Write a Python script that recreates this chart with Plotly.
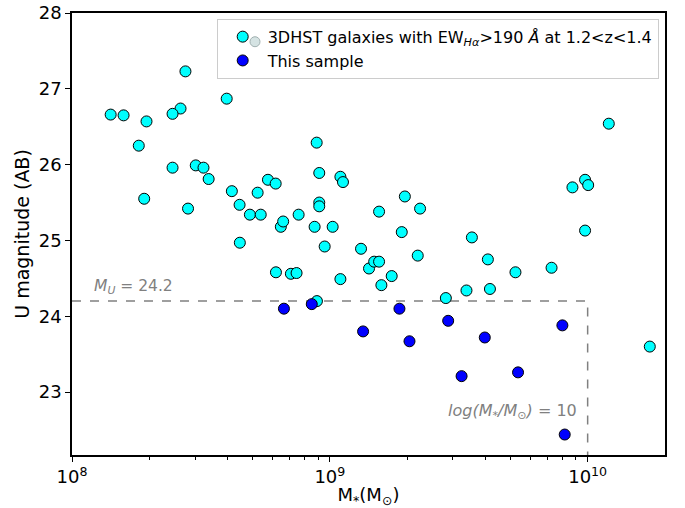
import plotly.graph_objects as go

# log10 stellar mass and U magnitude, 3DHST comparison galaxies
cyan_logm = [8.440, 8.600, 8.421, 8.390, 8.150, 8.200, 8.289, 8.259, 8.390, 8.480,
             8.510, 8.530, 8.280, 8.450, 8.620, 8.650, 8.760, 8.790, 8.720, 8.690,
             8.732, 8.810, 8.819, 8.651, 8.949, 8.959, 9.041, 9.051, 8.959, 8.959,
             9.291, 9.350, 9.191, 8.879, 8.941, 9.011, 9.279, 9.551, 8.980, 9.121,
             9.341, 10.082, 9.990, 10.002, 9.941, 9.990, 8.791, 8.849, 8.871, 9.041,
             9.152, 9.172, 9.191, 9.240, 9.200, 8.950, 9.450, 9.530, 9.613, 9.720,
             9.860, 9.621, 10.241]
cyan_u = [27.23, 26.87, 26.74, 26.67, 26.66, 26.65, 26.57, 26.25, 25.96, 25.99,
          25.96, 25.81, 25.55, 25.42, 25.65, 25.47, 25.80, 25.75, 25.63, 25.34,
          25.34, 25.18, 25.25, 24.97, 26.29, 25.89, 25.84, 25.77, 25.50, 25.45,
          25.58, 25.42, 25.38, 25.34, 25.18, 25.18, 25.11, 25.04, 24.92, 24.89,
          24.80, 26.54, 25.80, 25.73, 25.70, 25.13, 24.58, 24.56, 24.57, 24.49,
          24.63, 24.72, 24.72, 24.53, 24.41, 24.20, 24.24, 24.34, 24.75, 24.58,
          24.64, 24.36, 23.60]

# This sample
blue_logm = [8.822, 8.930, 9.129, 9.270, 9.309, 9.459, 9.511, 9.601, 9.730, 9.902, 9.911]
blue_u = [24.10, 24.16, 23.80, 24.10, 23.67, 23.94, 23.21, 23.72, 23.26, 23.88, 22.44]

# selection limits
mu_limit = 24.2
logm_limit = 10.0
x_range_log = [8.0, 10.30]
y_range = [22.17, 28.0]
x_tickvals = [1e8, 1e9, 1e10]
x_ticktext = ["10<sup>8</sup>", "10<sup>9</sup>", "10<sup>10</sup>"]
y_tickvals = [23, 24, 25, 26, 27, 28]
x_minor = [m * 10 ** d for d in (8, 9, 10) for m in range(2, 10)]

fig = go.Figure()

fig.add_trace(go.Scatter(
    x=[10 ** x_range_log[0], 10 ** logm_limit, 10 ** logm_limit],
    y=[mu_limit, mu_limit, y_range[0]],
    mode="lines", line=dict(color="#808080", width=1.5, dash="dash"),
    showlegend=False, hoverinfo="skip"))

fig.add_trace(go.Scatter(
    x=[10 ** v for v in cyan_logm], y=cyan_u, mode="markers",
    marker=dict(color="#00ffff", size=11, line=dict(color="black", width=1)),
    name="3DHST galaxies with EW<sub><i>Hα</i></sub>>190 <i>Å</i> at 1.2&lt;z&lt;1.4"))

fig.add_trace(go.Scatter(
    x=[10 ** v for v in blue_logm], y=blue_u, mode="markers",
    marker=dict(color="#0000ff", size=11, line=dict(color="black", width=1)),
    name="This sample"))

axis_common = dict(showline=True, linecolor="black", linewidth=1.5, mirror=True,
                   ticks="outside", ticklen=5, tickwidth=1.2, tickcolor="black",
                   showgrid=False, zeroline=False, automargin=False,
                   tickfont=dict(size=18, color="black"))

fig.update_xaxes(type="log", range=x_range_log, tickmode="array",
                 tickvals=x_tickvals, ticktext=x_ticktext,
                 minor=dict(ticks="outside", ticklen=3, tickcolor="black",
                            tickmode="array", tickvals=x_minor, showgrid=False),
                 title=dict(text="M<sub>*</sub>(M<sub>⊙</sub>)", font=dict(size=18, color="black"),
                            standoff=6),
                 **axis_common)
fig.update_yaxes(range=y_range, tickvals=y_tickvals,
                 title=dict(text="U magnitude (AB)", font=dict(size=19, color="black"),
                            standoff=4),
                 **axis_common)

fig.add_annotation(x=0.034, y=24.2, xref="paper", yref="y", yshift=14,
                   text="<i>M<sub>U</sub></i> = 24.2", showarrow=False,
                   xanchor="left", yanchor="middle",
                   font=dict(size=15.5, color="#808080"))
fig.add_annotation(x=0.855, y=22.75, xref="paper", yref="y",
                   text="<i>log(M<sub>*</sub>/M<sub>⊙</sub>)</i> = 10", showarrow=False,
                   xanchor="right", yanchor="middle",
                   font=dict(size=16, color="#808080"))

# second (faded) legend marker of the first legend entry
fig.add_shape(type="circle", xref="paper", yref="paper", xsizemode="pixel",
              ysizemode="pixel", xanchor=0.3086, yanchor=0.935,
              x0=-5, x1=5, y0=-5, y1=5,
              fillcolor="#d5e3e3", line=dict(color="#a0b0b0", width=1))

fig.update_layout(
    width=685, height=508,
    margin=dict(l=72, r=20, t=13, b=53),
    plot_bgcolor="white", paper_bgcolor="white",
    font=dict(family="DejaVu Sans", size=13, color="black"),
    legend=dict(x=0.244, y=0.987, xanchor="left", yanchor="top",
                bgcolor="rgba(255,255,255,0)", bordercolor="#cccccc", borderwidth=1,
                font=dict(size=16), itemwidth=40, tracegroupgap=0),
)

fig.write_html("out.html")
